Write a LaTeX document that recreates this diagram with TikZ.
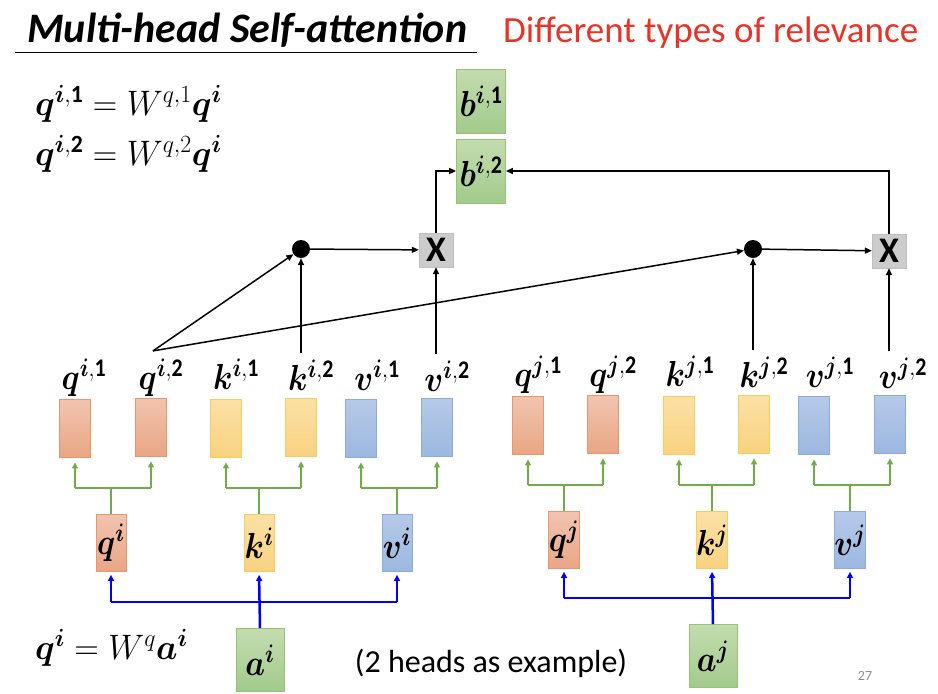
\RequirePackage{fix-cm}
\documentclass[tikz,border=0pt]{standalone}
\usepackage{amsmath}
\usepackage{bm}
\usepackage{graphicx}
\usepackage{fontspec}
\setmainfont{Carlito}
\usetikzlibrary{arrows.meta}
\definecolor{qtop}{RGB}{241,196,176}
\definecolor{qbot}{RGB}{233,166,132}
\definecolor{qbor}{RGB}{232,150,108}
\definecolor{ktop}{RGB}{251,225,166}
\definecolor{kbot}{RGB}{248,210,128}
\definecolor{kbor}{RGB}{249,204,96}
\definecolor{vtop}{RGB}{182,201,232}
\definecolor{vbot}{RGB}{156,184,224}
\definecolor{vbor}{RGB}{140,172,220}
\definecolor{gtop}{RGB}{195,220,175}
\definecolor{gbot}{RGB}{162,202,140}
\definecolor{gbor}{RGB}{150,195,120}
\definecolor{garr}{RGB}{112,173,71}
\definecolor{redt}{RGB}{232,52,40}
\newcommand\bvec[3]{\bm{#1}^{\bm{#2},\mathbf{#3}}}
\newcommand\mlab[1]{\scalebox{1.08}[1.25]{$#1$}}
\newcommand\meq[1]{\scalebox{1.17}[1.22]{$#1$}}
\begin{document}
\begin{tikzpicture}[x=1pt,y=-1pt,
  vbox/.style={minimum width=31pt,minimum height=58pt,inner sep=0pt,line width=0.8pt},
  qb/.style={vbox,draw=qbor,top color=qtop,bottom color=qbot},
  kb/.style={vbox,draw=kbor,top color=ktop,bottom color=kbot},
  vb/.style={vbox,draw=vbor,top color=vtop,bottom color=vbot},
  gb/.style={vbox,draw=gbor,top color=gtop,bottom color=gbot},
  lbl/.style={inner sep=0pt,font=\fontsize{29}{32}\selectfont},
  inl/.style={font=\fontsize{29}{32}\selectfont},
  gline/.style={draw=garr,line width=2.2pt},
  garrow/.style={gline,-{Triangle[length=6pt,width=6pt]},shorten >=5pt},
  bline/.style={draw=blue,line width=2.5pt},
  barrow/.style={bline,-{Triangle[length=6pt,width=6pt]},shorten >=3pt},
  karrow/.style={line width=1.5pt,-{Triangle[length=7pt,width=6pt]}},
  dotn/.style={circle,fill=black,minimum size=18pt,inner sep=0pt},
  crossn/.style={draw=black!25,fill=black!20,minimum size=34pt,inner sep=0pt,font=\fontsize{36}{38}\selectfont\bfseries}
]
\useasboundingbox (0,0) rectangle (938,694);

% title
\node[anchor=west,inner sep=0pt,font=\fontsize{42}{44}\selectfont\bfseries\itshape] (title) at (27,30) {Multi-head Self-attention};
\draw[line width=1pt] (15,52) -- (477,52);
\node[anchor=west,inner sep=0pt,text=redt,font=\fontsize{37}{40}\selectfont] (sub) at (503,33) {Different types of relevance};

% equations
\node[anchor=west,inner sep=0pt,font=\fontsize{29}{32}\selectfont] (eq1) at (35,104) {\meq{\bm{q}^{\bm{i},\mathbf{1}}=W^{q,1}\bm{q}^{\bm{i}}}};
\node[anchor=west,inner sep=0pt,font=\fontsize{29}{32}\selectfont] (eq2) at (35,154) {\meq{\bm{q}^{\bm{i},\mathbf{2}}=W^{q,2}\bm{q}^{\bm{i}}}};
\node[anchor=west,inner sep=0pt,font=\fontsize{29}{32}\selectfont] (eq3) at (35,648) {\meq{\bm{q}^{\bm{i}}=W^{q}\bm{a}^{\bm{i}}}};
\node[inner sep=0pt,font=\fontsize{32}{36}\selectfont] (ex) at (491,663) {(2 heads as example)};
\node[inner sep=0pt,text=black!45,font=\fontsize{14}{16}\selectfont] (pg) at (865,676) {27};

% b boxes
\node[gb,minimum width=49pt,minimum height=64pt,inl] (bi1) at (481,101) {\mlab{\bvec{b}{i}{1}}};
\node[gb,minimum width=49pt,minimum height=64pt,inl] (bi2) at (481,171) {\mlab{\bvec{b}{i}{2}}};

% upper boxes i
\node[qb] (qi1) at (75,428) {};
\node[qb] (qi2) at (151,427) {};
\node[kb] (ki1) at (226,428) {};
\node[kb] (ki2) at (301,427) {};
\node[vb] (vi1) at (361,428) {};
\node[vb] (vi2) at (437,427) {};
% upper boxes j
\node[qb] (qj1) at (528,425) {};
\node[qb] (qj2) at (603,424) {};
\node[kb] (kj1) at (679,425) {};
\node[kb] (kj2) at (754,424) {};
\node[vb] (vj1) at (814,425) {};
\node[vb] (vj2) at (890,424) {};

% labels
\node[lbl] (lqi1) at (84,378) {\mlab{\bvec{q}{i}{1}}};
\node[lbl] (lqi2) at (161,378) {\mlab{\bvec{q}{i}{2}}};
\node[lbl] (lki1) at (236,374) {\mlab{\bvec{k}{i}{1}}};
\node[lbl] (lki2) at (311,375) {\mlab{\bvec{k}{i}{2}}};
\node[lbl] (lvi1) at (377,375) {\mlab{\bvec{v}{i}{1}}};
\node[lbl] (lvi2) at (447,376) {\mlab{\bvec{v}{i}{2}}};
\node[lbl] (lqj1) at (538,375) {\mlab{\bvec{q}{j}{1}}};
\node[lbl] (lqj2) at (613,375) {\mlab{\bvec{q}{j}{2}}};
\node[lbl] (lkj1) at (690,371) {\mlab{\bvec{k}{j}{1}}};
\node[lbl] (lkj2) at (764,372) {\mlab{\bvec{k}{j}{2}}};
\node[lbl] (lvj1) at (830,372) {\mlab{\bvec{v}{j}{1}}};
\node[lbl] (lvj2) at (903,373) {\mlab{\bvec{v}{j}{2}}};

% lower boxes
\node[qb,minimum width=30pt,minimum height=57pt,inl] (qi) at (111,543) {\mlab{\bm{q}^{\bm{i}}}};
\node[kb,minimum width=30pt,minimum height=57pt,inl] (ki) at (259,543) {\mlab{\bm{k}^{\bm{i}}}};
\node[vb,minimum width=30pt,minimum height=57pt,inl] (vi) at (397,543) {\mlab{\bm{v}^{\bm{i}}}};
\node[qb,minimum width=30pt,minimum height=57pt,inl] (qj) at (564,540) {\mlab{\bm{q}^{\bm{j}}}};
\node[kb,minimum width=30pt,minimum height=57pt,inl] (kj) at (712,540) {\mlab{\bm{k}^{\bm{j}}}};
\node[vb,minimum width=30pt,minimum height=57pt,inl] (vj) at (850,540) {\mlab{\bm{v}^{\bm{j}}}};

% a boxes
\node[gb,minimum width=48pt,minimum height=63pt,inl] (ai) at (260,660) {\mlab{\bm{a}^{\bm{i}}}};
\node[gb,minimum width=48pt,minimum height=63pt,inl] (aj) at (713,656) {\mlab{\bm{a}^{\bm{j}}}};

% attention nodes
\node[dotn] (dot1) at (301,249) {};
\node[crossn] (cr1) at (436,250) {X};
\node[dotn] (dot2) at (753,249) {};
\node[crossn] (cr2) at (889,251) {X};

% green forks
\foreach \l/\a/\b in {qi/qi1/qi2,ki/ki1/ki2,vi/vi1/vi2,qj/qj1/qj2,kj/kj1/kj2,vj/vj1/vj2}{
  \coordinate (f\l) at ([yshift=26pt]\l.north);
  \draw[gline] (\l.north) -- (f\l);
  \draw[gline] (f\l -| \a) -- (f\l -| \b);
  \draw[garrow] (f\l -| \a) -- (\a.south);
  \draw[garrow] (f\l -| \b) -- (\b.south);
}

% blue forks
\foreach \s/\q/\k/\v in {ai/qi/ki/vi,aj/qj/kj/vj}{
  \coordinate (h\s) at ([yshift=26pt]\s.north);
  \draw[bline] (h\s -| \q) -- (h\s -| \v);
  \draw[barrow] (\s.north) -- (\k.south);
  \draw[barrow] (h\s -| \q) -- (\q.south);
  \draw[barrow] (h\s -| \v) -- (\v.south);
}

% black connectors
\path (lqi2.north) ++(-8,-8) coordinate (qs);
\path (dot1 |- lki2.north) ++(0,-6) coordinate (s1);
\path (cr1 |- lvi2.north) ++(0,-6) coordinate (s2);
\path (dot2 |- lkj2.north) ++(0,-6) coordinate (s3);
\path (cr2 |- lvj2.north) ++(0,-6) coordinate (s4);
\draw[karrow] (qs) -- (dot1);
\draw[karrow] (qs) -- (dot2);
\draw[karrow] (s1) -- (dot1);
\draw[karrow] (s2) -- (cr1);
\draw[karrow] (s3) -- (dot2);
\draw[karrow] (s4) -- (cr2);
\draw[karrow] (dot1) -- (cr1);
\draw[karrow] (dot2) -- (cr2);
\draw[karrow] (cr1.north) |- (bi2.west);
\draw[karrow] (cr2.north) |- (bi2.east);
\end{tikzpicture}
\end{document}
